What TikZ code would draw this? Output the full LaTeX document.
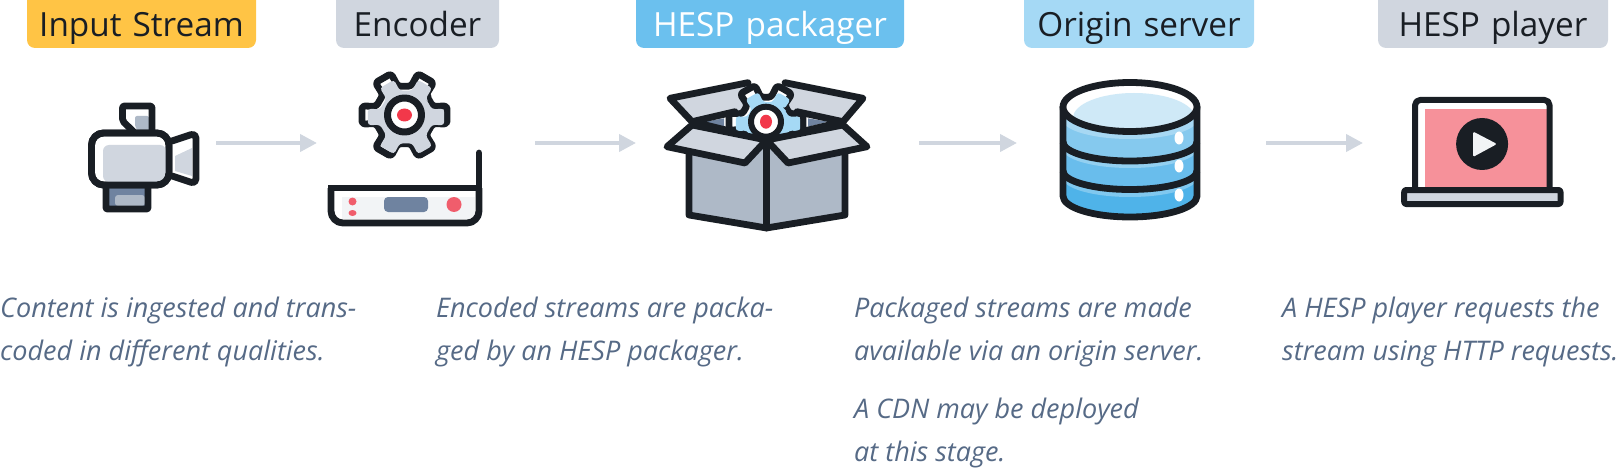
\documentclass[tikz,border=0pt]{standalone}
\usepackage{fontspec}
\usepackage{xcolor}
\usepackage{tikz}
\usetikzlibrary{
	arrows.meta,
	calc,
	positioning
}
\setmainfont{Open Sans}
\definecolor{InkDark}{HTML}{191E24}
\definecolor{MistGray}{HTML}{D0D6DF}
\definecolor{SlateGray}{HTML}{AEB9C7}
\definecolor{DeepSlate}{HTML}{6F83A0}
\definecolor{PaleGray}{HTML}{F2F4F6}
\definecolor{SignalRed}{HTML}{F2384A}
\definecolor{CoralRed}{HTML}{F05D6C}
\definecolor{ScreenPink}{HTML}{F6919A}
\definecolor{AmberTag}{HTML}{FFC445}
\definecolor{BlueTag}{HTML}{6BC0EE}
\definecolor{SkyTag}{HTML}{A5D9F5}
\definecolor{BandOne}{HTML}{85C9EE}
\definecolor{BandTwo}{HTML}{69BDEC}
\definecolor{BandThree}{HTML}{4FB3E9}
\definecolor{DiskTop}{HTML}{CFE9F7}
\definecolor{CaptionInk}{HTML}{566A86}
\tikzset{
	tagbox/.style={rounded corners=8pt, inner sep=0pt, outer sep=0pt, anchor=south, align=center,
		text height=46.5pt, text depth=11.5pt, font=\fontsize{33.3}{38}\selectfont, text=InkDark},
	iconslot/.style={inner sep=0pt, outer sep=0pt, minimum height=10pt},
	flowarrow/.style={draw=MistGray, line width=4pt, -{Triangle[length=17pt,width=17pt]}},
	caption/.style={anchor=north west, inner sep=0pt, align=left, text=CaptionInk,
		font=\itshape\fontsize{27}{43}\selectfont},
	ink/.style={draw=InkDark, line width=6.8pt, line join=round, line cap=round}
}
\newcommand{\gearshape}[3]{% outer radius, valley radius, half width of a tooth
	(-30-#3:#2) foreach \a in {0,60,...,300} {
		-- (\a-#3-5:#2) -- (\a-#3:#1) -- (\a+#3:#1) -- (\a+#3+5:#2)
	} -- cycle
}

\begin{document}
\begin{tikzpicture}[x=1pt, y=-1pt]
	\useasboundingbox (0,0) rectangle (1620,468);
	% tags
	\node[tagbox, fill=AmberTag, text width=229pt] (tagcamera) at (141.5,48) {Input Stream};
	\node[tagbox, fill=MistGray, text width=163pt] (tagencoder) at (417.5,48) {Encoder};
	\node[tagbox, fill=BlueTag, text width=268pt, text=white] (tagpackager) at (770,48) {HESP packager};
	\node[tagbox, fill=SkyTag, text width=230pt] (tagorigin) at (1139,48) {Origin server};
	\node[tagbox, fill=MistGray, text width=230pt] (tagplayer) at (1493,48) {HESP player};
	% slots that the arrows run between
	\node[iconslot, minimum width=140pt] (camera) at (146,143) {};
	\node[iconslot, minimum width=218pt] (encoder) at (426,143) {};
	\node[iconslot, minimum width=283pt] (packager) at (777.5,143) {};
	\node[iconslot, minimum width=249pt] (origin) at (1141.5,143) {};
	\node[iconslot, minimum width=214pt] (player) at (1470,143) {};
	\draw[flowarrow] (camera) -- (encoder);
	\draw[flowarrow] (encoder) -- (packager);
	\draw[flowarrow] (packager) -- (origin);
	\draw[flowarrow] (origin) -- (player);
	% camera
	\begin{scope}
		\fill[white] (122.5,106) -- (152,106) -- (152,135) -- (137,135) -- (122.5,121) -- cycle;
		\fill[SlateGray, rounded corners=2pt] (135,116) -- (149,116) -- (149,133) -- (140,133) -- (135,127) -- cycle;
		\draw[ink, rounded corners=2pt] (122.5,106) -- (152,106) -- (152,135) -- (137,135) -- (122.5,121) -- cycle;
		\fill[MistGray] (175,156) -- (192,148) -- (192,176) -- (175,171) -- cycle;
		\draw[ink, rounded corners=5pt] (172,141) -- (196,133) -- (196,184) -- (172,176);
		\fill[DeepSlate] (106,186) rectangle (148,209);
		\fill[SlateGray, rounded corners=3pt] (115,195) -- (115,206) -- (145,206) -- (145,195) -- cycle;
		\draw[ink, rounded corners=1pt] (106,188) -- (106,209) -- (148,209) -- (148,188);
		\draw[ink, fill=white, rounded corners=12pt] (91.5,133) rectangle (169,185);
		\fill[MistGray, rounded corners=6pt] (103,145) -- (103,182) -- (160,182) -- (166,176) -- (166,145) -- cycle;
		\draw[ink, rounded corners=12pt] (91.5,133) rectangle (169,185);
	\end{scope}
	% encoder
	\begin{scope}[shift={(404.5,115)}]
		\draw[ink, fill=white, rounded corners=3pt] \gearshape{43.5}{29.5}{12};
		\fill[MistGray, rounded corners=3pt, shift={(1.5,2)}] \gearshape{39}{27}{12};
		\draw[ink, fill=white, line width=7pt] (0,0) circle (17);
		\fill[SignalRed] (0,0) ellipse [x radius=7.5, y radius=6.5];
	\end{scope}
	\fill[PaleGray] (342,197) rectangle (475,219);
	\fill[CoralRed] (352.5,201.5) circle (4);
	\fill[CoralRed] (352.5,213) ellipse [x radius=4, y radius=3];
	\fill[CoralRed] (454,204.5) circle (7.5);
	\fill[DeepSlate, rounded corners=4pt] (384,197) rectangle (428,212);
	\draw[ink, rounded corners=12pt, line cap=butt] (331,188) -- (331,223) -- (479,223) -- (479,188);
	\draw[ink, line cap=butt] (328,188) -- (482,188);
	\draw[ink] (479,188) -- (479,153);
	% packager
	\fill[white] (692,122) -- (735,111) -- (797,111) -- (843,122) -- (766,140) -- cycle;
	\fill[DeepSlate] (705,121.7) -- (724,118.3) -- (724,126.7) -- cycle;
	\fill[DeepSlate] (808,118.3) -- (808,126.7) -- (828,121.7) -- cycle;
	\fill[MistGray] (670,98.3) -- (748,82.7) -- (760,108) -- (692,121.7) -- cycle;
	\fill[MistGray] (785,82.7) -- (863,98.3) -- (843,121.7) -- (775,108) -- cycle;
	\draw[ink] (735,111.7) -- (692,121.7) -- (670,98.3) -- (748,82.7);
	\draw[ink] (797,111.7) -- (843,121.7) -- (863,98.3) -- (785,82.7);
	\draw[ink] (692,121.7) -- (766.5,140) -- (843,121.7);
	\begin{scope}[shift={(766,121.7)}]
		\clip (-80,-50) rectangle (80,0) -- (-80,0) -- (0,19) -- (80,0) -- cycle;
		\draw[ink, fill=white, rounded corners=3pt] \gearshape{38}{25}{13};
		\fill[SkyTag, rounded corners=3pt, shift={(2,2)}] \gearshape{33}{22}{13};
	\end{scope}
	\fill[SlateGray] (689,153) -- (766.5,140) -- (845,153) -- (845,215) -- (766.5,228) -- (689,215) -- cycle;
	\draw[ink] (689,150) -- (689,215) -- (766.5,228) -- (845,215) -- (845,150);
	\draw[ink] (766.5,140) -- (766.5,228);
	\draw[ink, fill=MistGray] (692,125) -- (667,146.7) -- (745,163) -- (766.5,140) -- cycle;
	\draw[ink, fill=MistGray] (843,125) -- (867,146.7) -- (788,163) -- (766.5,140) -- cycle;
	\draw[ink, fill=white, line width=6pt] (766,121.7) circle (15);
	\fill[SignalRed] (766,121.7) ellipse [x radius=6, y radius=7];
	% origin server
	\begin{scope}
		\clip (1063,107) -- (1063,196) arc[start angle=180, end angle=0, x radius=67, y radius=21] -- (1197,107) -- cycle;
		\fill[BandThree] (1063,100) rectangle (1197,220);
		\foreach \depth/\tone in {197/BandThree!72!white, 190/BandTwo, 168/BandTwo!72!white, 161/BandOne, 139/BandOne!72!white}
			\fill[\tone] (1063,100) -- (1063,\depth-19) arc[start angle=180, end angle=0, x radius=67, y radius=19] -- (1197,100) -- cycle;
	\end{scope}
	\fill[white] (1179,138) ellipse [x radius=4.5, y radius=6.5];
	\fill[white] (1179,166) ellipse [x radius=4.5, y radius=6.5];
	\fill[white] (1179,195) ellipse [x radius=4.5, y radius=6.5];
	\draw[ink, line cap=butt] (1063,142) arc[start angle=180, end angle=0, x radius=67, y radius=19];
	\draw[ink, line cap=butt] (1063,171) arc[start angle=180, end angle=0, x radius=67, y radius=18.5];
	\draw[ink] (1063,107) -- (1063,196) arc[start angle=180, end angle=0, x radius=67, y radius=21] -- (1197,107);
	\fill[white] (1130,107) ellipse [x radius=67, y radius=24.5];
	\begin{scope}
		\clip (1130,107) ellipse [x radius=67, y radius=24.5];
		\fill[DiskTop] (1134,118) ellipse [x radius=61, y radius=25];
	\end{scope}
	\draw[ink] (1130,107) ellipse [x radius=67, y radius=24.5];
	% player
	\begin{scope}[shift={(-2.5,0)}]
		\fill[ScreenPink] (1427,109) rectangle (1549,188);
		\draw[ink, line width=6pt, rounded corners=5pt] (1417.6,190) -- (1417.6,100) -- (1552,100) -- (1552,190);
		\draw[ink, line width=6pt, fill=MistGray, rounded corners=2pt] (1406.7,190) rectangle (1563,204);
		\fill[InkDark] (1484.6,144) circle (26);
		\fill[PaleGray, rounded corners=1.5pt] (1475.5,131.5) -- (1499.5,144) -- (1475.5,157) -- cycle;
	\end{scope}
	% captions
	\node[caption] (capcamera) at (0,297) {Content is ingested and trans-\\coded in different qualities.};
	\node[caption] (capencoder) at (436,297) {Encoded streams are packa-\\ged by an HESP packager.};
	\node[caption] (caporigin) at (854,297) {Packaged streams are made\\available via an origin server.};
	\node[caption] (capcdn) at (854,398) {A CDN may be deployed\\at this stage.};
	\node[caption] (capplayer) at (1282,297) {A HESP player requests the\\stream using HTTP requests.};
\end{tikzpicture}
\end{document}
